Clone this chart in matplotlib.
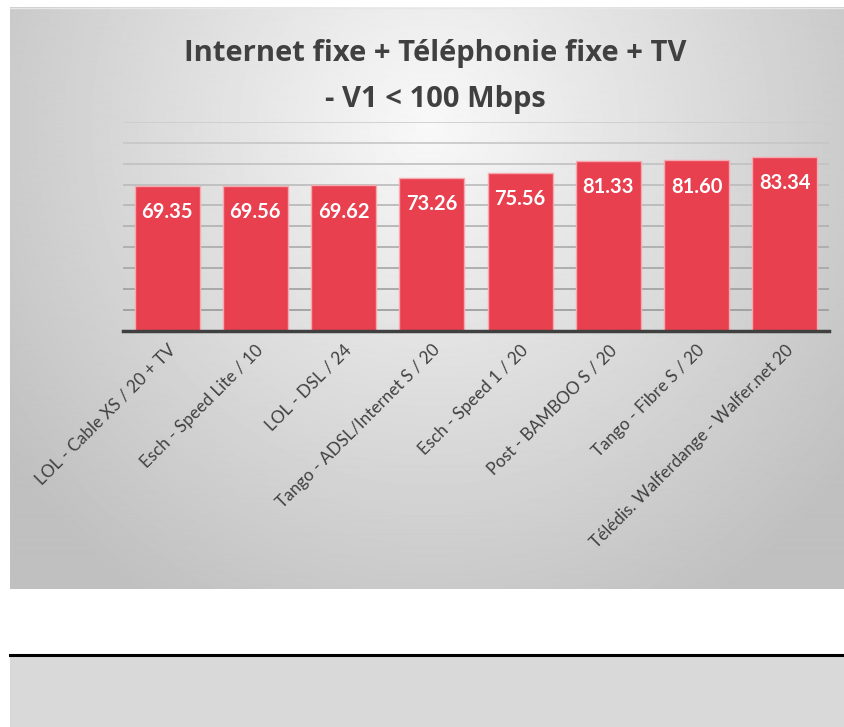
import numpy as np
from matplotlib import pyplot as plt

offers = ['LOL - Cable XS / 20 + TV', 'Esch - Speed Lite / 10', 'LOL - DSL / 24',
          'Tango - ADSL/Internet S / 20', 'Esch - Speed 1 / 20', 'Post - BAMBOO S / 20',
          'Tango - Fibre S / 20', 'Télédis. Walferdange - Walfer.net 20']
scores = [69.35, 69.56, 69.62, 73.26, 75.56, 81.33, 81.60, 83.34]
grid_levels = [10, 20, 30, 40, 50, 60, 70, 80, 90, 100]

W, H = 845, 727
fig = plt.figure(figsize=(W / 100, H / 100), dpi=100)
fig.patch.set_facecolor('white')

# background panel with a radial grey gradient
bg = fig.add_axes([0, 0, 1, 1])
bg.set_xlim(0, W)
bg.set_ylim(H, 0)
bg.axis('off')
yy, xx = np.mgrid[0:590, 10:845]
d = np.sqrt(((xx - 430) / 520.0) ** 2 + ((yy - 120) / 560.0) ** 2)
shade = np.clip(0.975 - 0.22 * d, 0.75, 1)
bg.imshow(shade, cmap='gray', vmin=0, vmax=1, extent=(10, 845, 589, 7),
          aspect='auto', interpolation='bilinear')
bg.plot([10, 845], [7.5, 7.5], color='#e6e6e6', lw=1)
# empty grey box at the bottom
bg.add_patch(plt.Rectangle((10, 655), 835, 72, color='#d9d9d9', lw=0))
bg.plot([10, 845], [655, 655], color='black', lw=2.2)

ax = fig.add_axes([123 / W, 1 - 330.7 / H, 706 / W, 208.7 / H])
ax.set_facecolor('none')
x = np.arange(len(offers))
ax.bar(x, scores, width=0.735, color='#e8404f', edgecolor='#f6a9b1',
       linewidth=1, zorder=3)
for i, v in enumerate(scores):
    ax.annotate(f'{v:.2f}', (i, v), xytext=(0, -19), textcoords='offset points',
                ha='center', va='center', color='white', fontsize=14.5,
                fontweight='bold', family='Lato', zorder=4)

ax.set_xlim(-0.5, len(offers) - 0.5)
ax.set_ylim(0, 100)
ax.set_yticks(grid_levels)
ax.yaxis.grid(True, linewidth=1.2)
for lvl, gl in zip(grid_levels, ax.get_ygridlines()):
    g = 0.58 + 0.22 * (lvl / 100)
    gl.set_color((g, g, g))
ax.set_yticklabels([])
ax.tick_params(axis='y', length=0)
for s in ['top', 'right', 'left']:
    ax.spines[s].set_visible(False)
ax.spines['bottom'].set_color('#404040')
ax.spines['bottom'].set_linewidth(2.5)
ax.spines['bottom'].set_zorder(5)

ax.set_xticks(x)
ax.set_xticklabels(offers, rotation=45, ha='right', va='top',
                   rotation_mode='anchor', fontsize=12.3, color='#404040',
                   family='Lato')
ax.tick_params(axis='x', length=0, pad=8)

fig.text(435 / W, 1 - 61 / H, 'Internet fixe + Téléphonie fixe + TV', ha='center',
         va='baseline', fontsize=21, fontweight='bold', color='#404040',
         family='Open Sans')
fig.text(435 / W, 1 - 107 / H, '- V1 < 100 Mbps', ha='center', va='baseline',
         fontsize=21, fontweight='bold', color='#404040', family='Open Sans')

fig.savefig('out.png', dpi=100)
